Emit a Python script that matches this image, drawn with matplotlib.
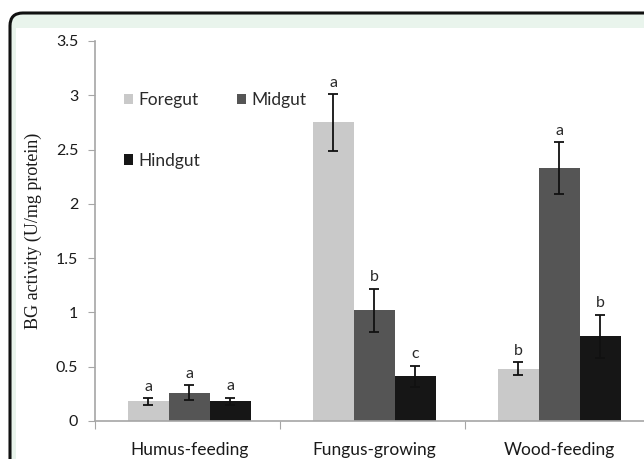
import matplotlib.pyplot as plt
from matplotlib.patches import FancyBboxPatch, Rectangle
import numpy as np

# данные
groups = ["Humus-feeding", "Fungus-growing", "Wood-feeding"]
series = ["Foregut", "Midgut", "Hindgut"]
foregut = [0.18, 2.75, 0.48]
midgut = [0.26, 1.02, 2.33]
hindgut = [0.18, 0.41, 0.78]
foregut_err = [0.03, 0.26, 0.06]
midgut_err = [0.07, 0.20, 0.24]
hindgut_err = [0.035, 0.10, 0.20]
foregut_lbl = ["a", "a", "b"]
midgut_lbl = ["a", "b", "a"]
hindgut_lbl = ["a", "c", "b"]

colors = ["#c9c9c9", "#555555", "#161616"]
W, H = 644, 459

fig = plt.figure(figsize=(W / 100, H / 100), dpi=100)

# рамка с закруглёнными углами
frame = FancyBboxPatch((10 / W, 1 - 500 / H), 700 / W, 487 / H,
                       boxstyle="round,pad=0,rounding_size=0.02",
                       mutation_aspect=W / H,
                       transform=fig.transFigure, facecolor="#e9f4ec",
                       edgecolor="#111111", linewidth=2.2, zorder=-2)
fig.patches.append(frame)
inner = Rectangle((16 / W, -0.1), 1.2, 1 - 28 / H + 0.1, transform=fig.transFigure,
                  facecolor="white", edgecolor="none", zorder=-1)
fig.patches.append(inner)

ax = fig.add_axes([95 / W, 1 - 421 / H, 555 / W, 380 / H])
ax.set_facecolor("none")
ax.set_zorder(1)

x = np.arange(len(groups)) + 0.51
bw = 0.222
font = "Lato"
gray = "#a6a6a6"

data = [(foregut, foregut_err, foregut_lbl), (midgut, midgut_err, midgut_lbl),
        (hindgut, hindgut_err, hindgut_lbl)]
for i, (vals, errs, lbls) in enumerate(data):
    pos = x + (i - 1) * bw
    ax.bar(pos, vals, width=bw, color=colors[i], label=series[i], zorder=2)
    ax.errorbar(pos, vals, yerr=errs, fmt="none", ecolor="#111111",
                elinewidth=1.3, capsize=3.5, capthick=1.3, zorder=3)
    for p, v, e, t in zip(pos, vals, errs, lbls):
        ax.text(p, v + e + 0.04, t, ha="center", va="bottom", fontsize=11.5,
                family=font, color="#2a2a2a")

ax.set_xlim(0, 3)
ax.set_ylim(0, 3.5)
ax.set_yticks(np.arange(0, 3.51, 0.5))
ax.set_yticklabels(["0", "0.5", "1", "1.5", "2", "2.5", "3", "3.5"],
                   family=font, fontsize=11.5, color="#1a1a1a")
ax.tick_params(axis="y", length=5, color=gray, pad=7)
ax.set_xticks([0, 1, 2, 3])
ax.set_xticklabels([])
ax.tick_params(axis="x", which="major", length=6, color=gray)
ax.set_xticks(x, minor=True)
ax.set_xticklabels(groups, minor=True, family=font, fontsize=12.5, color="#1a1a1a")
ax.tick_params(axis="x", which="minor", length=0, pad=15)

for s in ["top", "right"]:
    ax.spines[s].set_visible(False)
for s in ["left", "bottom"]:
    ax.spines[s].set_color(gray)
    ax.spines[s].set_linewidth(1.2)

ax.set_ylabel("BG activity (U/mg protein)", family="Liberation Serif",
              fontsize=13, color="#1a1a1a", labelpad=10)

# легенда: Foregut и Hindgut в первом столбце, Midgut во втором
h, l = ax.get_legend_handles_labels()
leg = ax.legend([h[0], h[2], h[1]], [l[0], l[2], l[1]], ncol=2,
                loc="upper left", bbox_to_anchor=(0.036, 0.888),
                frameon=False, borderpad=0, handlelength=0.55, handleheight=0.55,
                handletextpad=0.3, labelspacing=2.55, columnspacing=2.1,
                prop={"family": font, "size": 12.5})
for t in leg.get_texts():
    t.set_color("#2a2a2a")

plt.savefig("out.png", dpi=100)
